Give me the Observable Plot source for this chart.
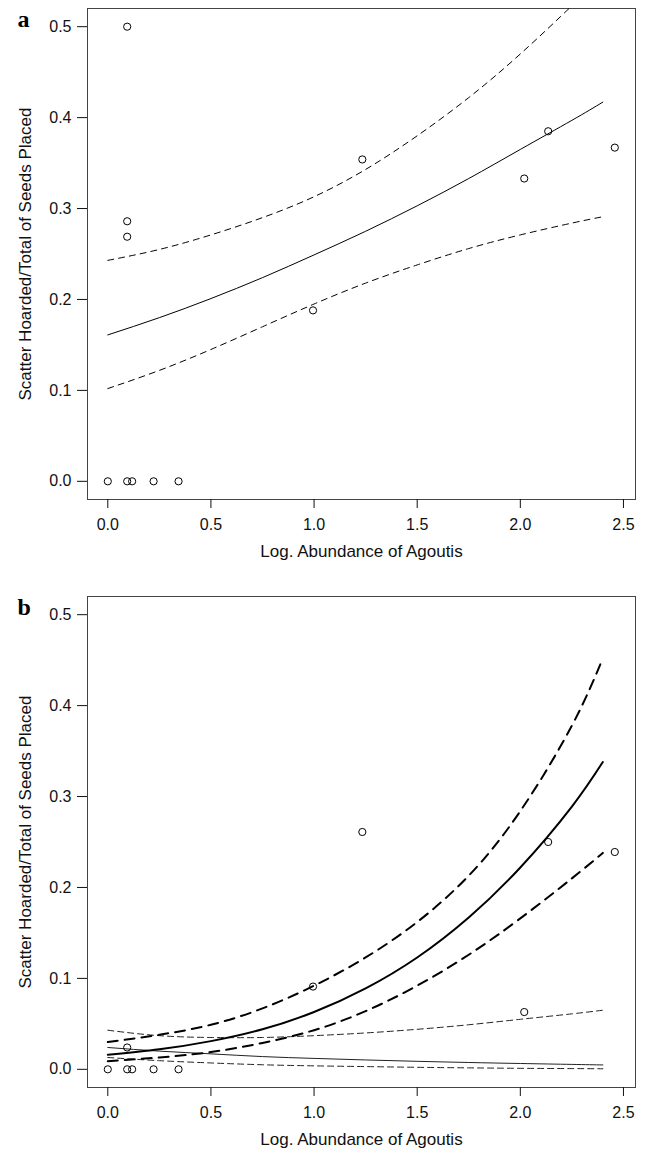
<!DOCTYPE html>
<html>
<head>
<meta charset="utf-8">
<script src="https://cdn.jsdelivr.net/npm/d3@7"></script>
<script src="https://cdn.jsdelivr.net/npm/@observablehq/plot@0.6"></script>
<style>
  body { margin: 0; background: #fff; }
  #chart svg { display: block; }
</style>
</head>
<body>
<div id="chart"></div>
<script>
// ---- labels & ticks ----
const panelLetters = ["a", "b"];
const xLabel = "Log. Abundance of Agoutis";
const yLabel = "Scatter Hoarded/Total of Seeds Placed";
const xTicks = [0, 0.5, 1.0, 1.5, 2.0, 2.5];
const yTicks = [0, 0.1, 0.2, 0.3, 0.4, 0.5];
const xDomain = [-0.0984, 2.5584];
const yDomain = [-0.02, 0.52];

// ---- observed points ----
const pointsAX = [0, 0.094, 0.118, 0.222, 0.343, 0.094, 0.094, 0.094, 0.995, 1.234, 2.019, 2.135, 2.458];
const pointsAY = [0, 0, 0, 0, 0, 0.500, 0.286, 0.269, 0.188, 0.354, 0.333, 0.385, 0.367];
const pointsBX = [0, 0.094, 0.118, 0.222, 0.343, 0.094, 0.995, 1.234, 2.019, 2.135, 2.458];
const pointsBY = [0, 0, 0, 0, 0, 0.024, 0.091, 0.261, 0.063, 0.250, 0.239];

// ---- fitted curves (read at these x positions) ----
const curveX = [0, 0.25, 0.5, 0.75, 1.0, 1.25, 1.5, 1.75, 2.0, 2.25, 2.4];
// panel a
const aFit   = [0.161, 0.180, 0.201, 0.224, 0.249, 0.275, 0.303, 0.333, 0.365, 0.397, 0.417];
const aUpper = [0.243, 0.255, 0.271, 0.290, 0.313, 0.343, 0.380, 0.422, 0.470, 0.523, 0.556];
const aLower = [0.102, 0.122, 0.145, 0.170, 0.195, 0.218, 0.238, 0.256, 0.271, 0.284, 0.291];
// panel b, main model (thick)
const bFit   = [0.016, 0.022, 0.031, 0.044, 0.063, 0.089, 0.123, 0.167, 0.222, 0.289, 0.338];
const bUpper = [0.030, 0.038, 0.049, 0.067, 0.092, 0.123, 0.162, 0.213, 0.284, 0.378, 0.452];
const bLower = [0.009, 0.013, 0.019, 0.029, 0.043, 0.064, 0.092, 0.126, 0.166, 0.210, 0.238];
// panel b, second model (thin)
const b2Fit   = [0.024, 0.020, 0.017, 0.014, 0.012, 0.0103, 0.0088, 0.0075, 0.0064, 0.0054, 0.0048];
const b2Upper = [0.043, 0.037, 0.035, 0.035, 0.037, 0.040, 0.044, 0.049, 0.055, 0.061, 0.065];
const b2Lower = [0.013, 0.0095, 0.007, 0.005, 0.0038, 0.003, 0.0022, 0.0016, 0.0011, 0.0008, 0.0006];

const toRows = (xs, ys) => xs.map((x, i) => ({x, y: ys[i]}));

function panel({letter, px, py, lines, height, marginBottom}) {
  const fmt = d3.format(".1f");
  const marks = [
    Plot.frame({stroke: "#444", strokeWidth: 1}),
    Plot.axisY({ticks: yTicks, tickSize: 10, tickPadding: 6, tickFormat: fmt, label: null, stroke: "#111"}),
    Plot.axisX({ticks: xTicks, tickSize: 9, tickPadding: 10, tickFormat: fmt, label: null, stroke: "#111"}),
    ...lines.map(l => Plot.line(toRows(curveX, l.ys), {
      x: "x", y: "y", stroke: l.stroke || "#000", strokeWidth: l.width,
      strokeDasharray: l.dash || null, curve: "natural", clip: true
    })),
    Plot.dot(toRows(px, py), {x: "x", y: "y", r: 3.6, stroke: "#000", strokeWidth: 1, fill: "none"}),
    Plot.text([yLabel], {frameAnchor: "left", rotate: -90, dx: -62, textAnchor: "middle",
      lineAnchor: "middle", fontSize: 17, fill: "#111"}),
    Plot.text([xLabel], {frameAnchor: "bottom", dy: 57, textAnchor: "middle",
      lineAnchor: "bottom", fontSize: 17, fill: "#111"}),
    Plot.text([letter], {frameAnchor: "top-left", dx: -70, dy: 18, textAnchor: "start",
      lineAnchor: "bottom", fontSize: 24, fontWeight: "bold",
      fontFamily: "'Liberation Serif', 'DejaVu Serif', serif", fill: "#000"})
  ];
  return Plot.plot({
    width: 646,
    height,
    marginLeft: 87,
    marginRight: 11,
    marginTop: 8,
    marginBottom,
    x: {domain: xDomain},
    y: {domain: yDomain},
    style: {fontFamily: "'Liberation Sans', Arial, sans-serif", fontSize: "16px", color: "#111", background: "#fff"},
    marks
  });
}

const chart = document.getElementById("chart");
chart.append(panel({
  letter: panelLetters[0], px: pointsAX, py: pointsAY, height: 588, marginBottom: 89,
  lines: [
    {ys: aFit, width: 1},
    {ys: aUpper, width: 1, dash: "6,5"},
    {ys: aLower, width: 1, dash: "6,5"}
  ]
}));
chart.append(panel({
  letter: panelLetters[1], px: pointsBX, py: pointsBY, height: 567, marginBottom: 68,
  lines: [
    {ys: b2Fit, width: 1, stroke: "#222"},
    {ys: b2Upper, width: 1, dash: "6,4", stroke: "#222"},
    {ys: b2Lower, width: 1, dash: "6,4", stroke: "#222"},
    {ys: bFit, width: 2},
    {ys: bUpper, width: 2, dash: "10,7"},
    {ys: bLower, width: 2, dash: "10,7"}
  ]
}));
</script>
</body>
</html>
